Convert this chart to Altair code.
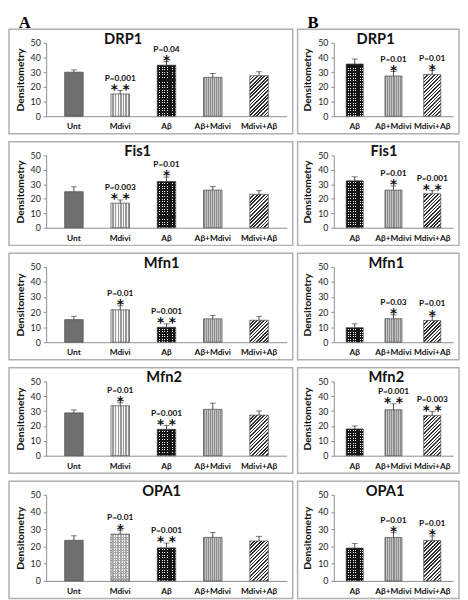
import altair as alt
import pandas as pd

# ---------------- data ----------------
GENES = ["DRP1", "Fis1", "Mfn1", "Mfn2", "OPA1"]
CATS_A = ["Unt", "Mdivi", "Aβ", "Aβ+Mdivi", "Mdivi+Aβ"]
CATS_B = ["Aβ", "Aβ+Mdivi", "Mdivi+Aβ"]

A_VALUES = [
    [30.0, 15.2, 34.8, 26.5, 27.6],
    [24.9, 17.0, 31.9, 26.0, 23.1],
    [15.0, 21.5, 9.9, 15.5, 14.6],
    [28.8, 33.6, 17.7, 31.2, 27.3],
    [23.6, 27.2, 19.2, 25.3, 23.2],
]
A_ERRORS = [
    [1.6, 2.3, 2.4, 2.6, 2.7],
    [3.4, 2.2, 3.1, 2.5, 2.5],
    [2.2, 2.7, 2.3, 2.3, 2.6],
    [2.0, 2.0, 2.6, 4.2, 2.8],
    [2.6, 2.3, 2.8, 2.8, 2.7],
]
A_PVALUES = [
    ["", "P=0.001", "P=0.04", "", ""],
    ["", "P=0.003", "P=0.01", "", ""],
    ["", "P=0.01", "P=0.001", "", ""],
    ["", "P=0.01", "P=0.001", "", ""],
    ["", "P=0.01", "P=0.001", "", ""],
]
A_STARS = [
    [0, 2, 1, 0, 0],
    [0, 2, 1, 0, 0],
    [0, 1, 2, 0, 0],
    [0, 1, 2, 0, 0],
    [0, 1, 2, 0, 0],
]

B_VALUES = [
    [35.6, 27.4, 28.4],
    [32.4, 26.0, 23.5],
    [9.6, 15.6, 14.4],
    [18.0, 30.9, 27.0],
    [19.1, 25.2, 23.5],
]
B_ERRORS = [
    [3.4, 3.1, 2.8],
    [2.8, 2.8, 2.3],
    [2.6, 2.6, 2.9],
    [2.0, 4.0, 2.8],
    [2.7, 2.8, 2.6],
]
B_PVALUES = [
    ["", "P=0.01", "P=0.01"],
    ["", "P=0.01", "P=0.001"],
    ["", "P=0.03", "P=0.01"],
    ["", "P=0.001", "P=0.003"],
    ["", "P=0.01", "P=0.01"],
]
B_STARS = [
    [0, 1, 1],
    [0, 1, 2],
    [0, 1, 1],
    [0, 2, 2],
    [0, 1, 1],
]

# ---------------- layout / style ----------------
W_A, W_B = 246, 122
HEIGHTS = [75, 74, 77, 76, 88]
PAD_A = (0.6, 0.4)
PAD_B = (0.56, 0.32)
TITLE_X_A = [0.32, 0.38, 0.48, 0.49, 0.48]
TITLE_X_B = [0.35, 0.42, 0.44, 0.44, 0.43]
FONT = "Lato"
CLEAR = "rgba(0,0,0,0)"


def stripes(c1, c2, n, frac=0.5, x2=1.0, y2=0.0):
    n = max(1, int(round(n)))
    stops = []
    for i in range(n):
        a = i / n
        b = (i + frac) / n
        c = (i + 1) / n
        stops += [
            {"offset": round(a, 5), "color": c1},
            {"offset": round(b, 5), "color": c1},
            {"offset": round(b, 5), "color": c2},
            {"offset": round(c, 5), "color": c2},
        ]
    return {"gradient": "linear", "x1": 0, "y1": 0, "x2": x2, "y2": y2, "stops": stops}


def diag(c1, c2, w, h, period, frac=0.5):
    k = max(h, 1) / w
    n = w * (1 + k * k) / period
    return stripes(c1, c2, n, frac, x2=1.0, y2=k)


def fills_for(cat, gene, bw, hpx):
    if cat == "Unt":
        return ["#6f6f6f"]
    if cat == "Mdivi":
        if gene == "OPA1":
            return [stripes("#ffffff", "#a8a8a8", bw / 2.6, 0.45),
                    stripes("#a8a8a8", CLEAR, hpx / 2.6, 0.45, x2=0.0, y2=1.0)]
        return [stripes("#f4f4f4", "#9a9a9a", bw / 2.7)]
    if cat == "Aβ":
        return [stripes("#151515", "#f0f0f0", bw / 2.6, 0.66),
                stripes("#151515", CLEAR, max(hpx, 3) / 2.6, 0.62, x2=0.0, y2=1.0)]
    if cat == "Aβ+Mdivi":
        return [stripes("#8c8c8c", "#c4c4c4", bw / 2.2)]
    return [diag("#2e2e2e", "#ffffff", bw, hpx, 3.6)]


def bandwidth(W, n, pi, po):
    return W / (n - pi + 2 * po) * (1 - pi)


ONE = pd.DataFrame({"k": [0]})

X_AXIS = alt.Axis(title=None, labelAngle=0, labelFont=FONT, labelFontWeight="bold",
                  labelFontSize=8.5, labelColor="#111111", ticks=False,
                  domainColor="#8c8c8c", labelPadding=6, labelOverlap=False, grid=False)
Y_AXIS = alt.Axis(values=[0, 10, 20, 30, 40, 50], title="Densitometry", titleFont=FONT,
                  titleFontSize=10.5, titleFontWeight="bold", titleColor="#111111",
                  labelFont=FONT, labelFontSize=9, labelColor="#222222", tickSize=3,
                  tickColor="#8c8c8c", domainColor="#8c8c8c", grid=False,
                  titlePadding=5, labelPadding=3)
Y_SCALE = alt.Scale(domain=[0, 50], nice=False, zero=True)


def panel(g, cats, vals, errs, ps, stars, W, pad, tfrac, letter, frame_left):
    H = HEIGHTS[g]
    gene = GENES[g]
    df = pd.DataFrame({
        "cat": cats,
        "val": vals,
        "top": [v + e for v, e in zip(vals, errs)],
        "p": ps,
        "star": [" ".join(["*"] * s) for s in stars],
    })
    pi, po = pad
    bw = bandwidth(W, len(cats), pi, po)
    x = alt.X("cat:N", sort=cats, scale=alt.Scale(domain=cats, paddingInner=pi, paddingOuter=po),
              axis=X_AXIS)
    y_val = alt.Y("val:Q", scale=Y_SCALE, axis=Y_AXIS)
    y_top = alt.Y("top:Q", scale=Y_SCALE, axis=Y_AXIS)

    layers = [
        alt.Chart(ONE).mark_rect(fill="#ffffff", fillOpacity=0, stroke="#b0b0b0", strokeWidth=1.5)
        .encode(x=alt.value(frame_left), x2=alt.value(W + 6), y=alt.value(-14), y2=alt.value(H + 18))
    ]
    for cat, v in zip(cats, vals):
        hpx = v / 50.0 * H
        fl = fills_for(cat, gene, bw, hpx)
        for j, f in enumerate(fl):
            kw = {"stroke": "#4a4a4a", "strokeWidth": 0.7} if j == len(fl) - 1 else {}
            layers.append(
                alt.Chart(df).transform_filter(alt.datum.cat == cat)
                .mark_bar(fill=f, **kw).encode(x=x, y=y_val)
            )
    layers.append(alt.Chart(df).mark_rule(color="#333333", strokeWidth=0.9)
                  .encode(x=x, y=y_val, y2="top:Q"))
    layers.append(alt.Chart(df).mark_tick(color="#333333", thickness=0.9, size=6)
                  .encode(x=x, y=y_top))
    layers.append(alt.Chart(df).transform_filter(alt.datum.star != "")
                  .mark_text(font="DejaVu Sans", fontSize=14, fontWeight="bold", color="#111111",
                             baseline="alphabetic", dy=3.5)
                  .encode(x=x, y=y_top, text="star:N"))
    layers.append(alt.Chart(df).transform_filter(alt.datum.p != "")
                  .mark_text(font=FONT, fontSize=8.5, fontWeight="bold", color="#111111",
                             baseline="alphabetic", dy=-10)
                  .encode(x=x, y=y_top, text="p:N"))
    layers.append(alt.Chart(ONE).mark_text(text=gene, font=FONT, fontSize=15, fontWeight="bold",
                                           color="#111111", baseline="middle")
                  .encode(x=alt.value(tfrac * W), y=alt.value(-4)))
    if letter:
        layers.append(alt.Chart(ONE).mark_text(text=letter, font="Liberation Serif", fontSize=17,
                                               fontWeight="bold", color="#000000",
                                               align="left", baseline="top")
                      .encode(x=alt.value(frame_left + 10), y=alt.value(-28)))
    return alt.layer(*layers).properties(width=W, height=H)


rows = []
for g in range(len(GENES)):
    pa = panel(g, CATS_A, A_VALUES[g], A_ERRORS[g], A_PVALUES[g], A_STARS[g], W_A, PAD_A,
               TITLE_X_A[g], "A" if g == 0 else None, -38)
    pb = panel(g, CATS_B, B_VALUES[g], B_ERRORS[g], B_PVALUES[g], B_STARS[g], W_B, PAD_B,
               TITLE_X_B[g], "B" if g == 0 else None, -37)
    rows.append(alt.hconcat(pa, pb, spacing=3))

chart = (
    alt.vconcat(*rows, spacing=6)
    .properties(padding=0, background="#ffffff")
    .configure_view(stroke=None)
)

chart.save("out.html", embed_options={"renderer": "svg", "actions": False})
